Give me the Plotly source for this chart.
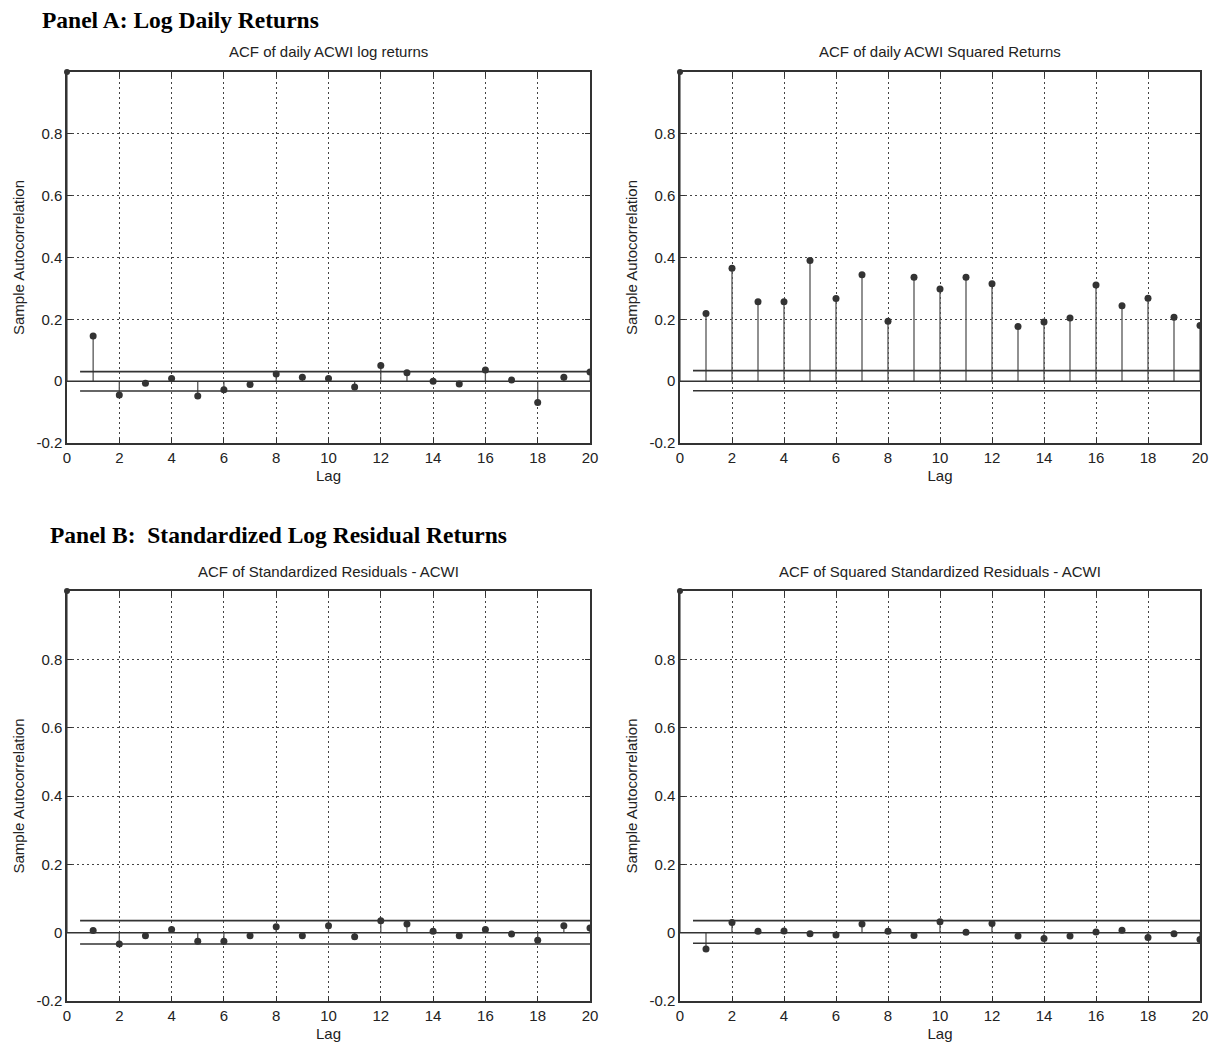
import plotly.graph_objects as go

OFF = 0
W, H = 1211, 1045

lags = list(range(0, 21))

acf_log_returns = [1.0, 0.146, -0.045, -0.007, 0.009, -0.048, -0.028, -0.011, 0.023, 0.013, 0.009,
                   -0.019, 0.051, 0.027, 0.000, -0.009, 0.036, 0.004, -0.069, 0.013, 0.030]
acf_sq_returns = [1.0, 0.219, 0.365, 0.257, 0.257, 0.390, 0.267, 0.344, 0.194, 0.336, 0.298,
                  0.336, 0.315, 0.177, 0.191, 0.204, 0.311, 0.244, 0.268, 0.207, 0.180]
acf_std_resid = [1.0, 0.006, -0.033, -0.009, 0.009, -0.025, -0.025, -0.009, 0.017, -0.009, 0.020,
                 -0.012, 0.035, 0.025, 0.004, -0.009, 0.009, -0.004, -0.022, 0.020, 0.014]
acf_sq_std_resid = [1.0, -0.048, 0.030, 0.004, 0.005, -0.003, -0.007, 0.025, 0.004, -0.008, 0.032,
                    0.001, 0.027, -0.010, -0.017, -0.010, 0.002, 0.007, -0.014, -0.003, -0.020]

bounds = [(0.031, -0.032), (0.034, -0.031), (0.035, -0.033), (0.035, -0.031)]

titles = ["ACF of daily ACWI log returns", "ACF of daily ACWI Squared Returns",
          "ACF of Standardized Residuals - ACWI", "ACF of Squared Standardized Residuals - ACWI"]
series = [acf_log_returns, acf_sq_returns, acf_std_resid, acf_sq_std_resid]

y_tickvals = [-0.2, 0, 0.2, 0.4, 0.6, 0.8]
y_ticktext = ["-0.2", "0", "0.2", "0.4", "0.6", "0.8"]
x_tickvals = list(range(0, 21, 2))
x_ticktext = [str(v) for v in x_tickvals]

# page-pixel boxes (left, right, top, bottom)
boxes = [(67, 590, 72, 443), (680, 1200, 72, 443), (67, 590, 591, 1001), (680, 1200, 591, 1001)]


def px(xp):
    return (xp - OFF) / W


def py(yp):
    return 1 - (yp - OFF) / H


FONT = "Liberation Sans Narrow, Liberation Sans, Arial"
fig = go.Figure()
layout = dict(width=W, height=H, margin=dict(l=0, r=0, t=0, b=0, autoexpand=False),
              paper_bgcolor="white", plot_bgcolor="white", showlegend=False,
              font=dict(family=FONT, color="#222"))
annotations = []

for i, (vals, (lb, bb), title, box) in enumerate(zip(series, bounds, titles, boxes)):
    n = "" if i == 0 else str(i + 1)
    xa, ya = "x" + n, "y" + n
    l, r, t, b = box
    common = dict(showline=True, mirror="ticks", linecolor="#333", linewidth=1.5,
                  ticks="inside", ticklen=5, tickcolor="#333", automargin=False,
                  showgrid=True, gridcolor="#444", griddash="2px,3px", gridwidth=1.2,
                  zeroline=False, tickfont=dict(size=15, family=FONT, color="#222"))
    layout["xaxis" + n] = dict(domain=[px(l), px(r)], range=[0, 20], anchor=ya,
                               tickvals=x_tickvals, ticktext=x_ticktext,
                               title=dict(text="Lag", font=dict(size=15, family=FONT), standoff=6),
                               **common)
    layout["yaxis" + n] = dict(domain=[py(b), py(t)], range=[-0.2, 1.0], anchor=xa,
                               tickvals=y_tickvals, ticktext=y_ticktext,
                               title=dict(text="Sample Autocorrelation", font=dict(size=15, family=FONT),
                                          standoff=8),
                               **common)
    # stems
    sx, sy = [], []
    for k, v in zip(lags, vals):
        sx += [k, k, None]
        sy += [0, v, None]
    fig.add_trace(go.Scatter(x=sx, y=sy, mode="lines", line=dict(color="#555", width=1.3),
                             xaxis=xa, yaxis=ya, hoverinfo="skip"))
    # baseline
    fig.add_trace(go.Scatter(x=[0, 20], y=[0, 0], mode="lines", line=dict(color="#333", width=1.5),
                             xaxis=xa, yaxis=ya, hoverinfo="skip"))
    # confidence bounds
    fig.add_trace(go.Scatter(x=[0.5, 20], y=[lb, lb], mode="lines", line=dict(color="#333", width=1.8),
                             xaxis=xa, yaxis=ya, hoverinfo="skip"))
    fig.add_trace(go.Scatter(x=[0.5, 20], y=[bb, bb], mode="lines", line=dict(color="#333", width=1.5),
                             xaxis=xa, yaxis=ya, hoverinfo="skip"))
    # markers (lags 1..20 clipped at the axes, lag 0 drawn unclipped at the corner)
    fig.add_trace(go.Scatter(x=lags[1:], y=vals[1:], mode="markers",
                             marker=dict(color="#333", size=7),
                             xaxis=xa, yaxis=ya))
    fig.add_trace(go.Scatter(x=lags[:1], y=vals[:1], mode="markers", cliponaxis=False,
                             marker=dict(color="#333", size=6),
                             xaxis=xa, yaxis=ya))
    annotations.append(dict(text=title, x=px((l + r) / 2), y=py(t - 20), xref="paper", yref="paper",
                            showarrow=False, xanchor="center", yanchor="middle",
                            font=dict(size=15, family=FONT, color="#222")))

annotations.append(dict(text="<b>Panel A: Log Daily Returns</b>", x=px(40), y=py(20),
                        xref="paper", yref="paper", showarrow=False, xanchor="left", yanchor="middle",
                        font=dict(size=23.5, family="Liberation Serif, Times New Roman", color="black")))
annotations.append(dict(text="<b>Panel B:  Standardized Log Residual Returns</b>", x=px(48), y=py(535),
                        xref="paper", yref="paper", showarrow=False, xanchor="left", yanchor="middle",
                        font=dict(size=23.5, family="Liberation Serif, Times New Roman", color="black")))
layout["annotations"] = annotations
fig.update_layout(**layout)
fig.write_html("out.html", config={"displayModeBar": False},
               post_script="document.body.style.margin='0';document.body.style.overflow='hidden';")
